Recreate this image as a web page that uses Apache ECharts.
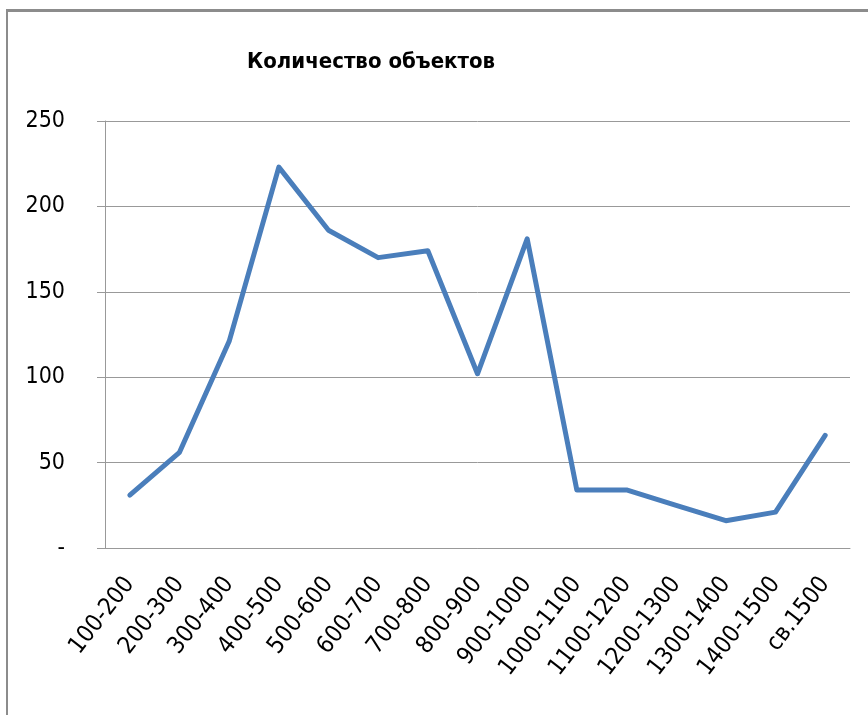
<!DOCTYPE html>
<html>
<head>
<meta charset="utf-8">
<script src="https://cdn.jsdelivr.net/npm/echarts@6/dist/echarts.min.js"></script>
<style>
  html, body { margin: 0; padding: 0; background: #fff; }
  #frame {
    position: absolute; left: 6px; top: 9px; width: 862px; height: 706px;
    border-top: 3px solid #8c8c8c; border-left: 2px solid #8c8c8c;
  }
  #chart { position: absolute; left: 0; top: 0; width: 868px; height: 715px; }
</style>
</head>
<body>
<div id="frame"></div>
<div id="chart"></div>
<script>
// диапазоны (категории оси X)
const categories = ["100-200", "200-300", "300-400", "400-500", "500-600", "600-700", "700-800",
  "800-900", "900-1000", "1000-1100", "1100-1200", "1200-1300", "1300-1400", "1400-1500", "св.1500"];
// количество объектов
const counts = [31, 56, 121, 223, 186, 170, 174, 102, 181, 34, 34, 25, 16, 21, 66];
const yTicks = [0, 50, 100, 150, 200, 250];

const font = "'Liberation Sans Narrow', 'DejaVu Sans Condensed', sans-serif";

const getOption = () => {
  return {
    animation: false,
    title: {
      text: "Количество объектов",
      left: 242,
      top: 46,
      textStyle: { fontFamily: font, fontSize: 22, fontWeight: "bold", color: "#000" }
    },
    grid: { left: 105, right: 18, top: 121, bottom: 167 },
    xAxis: {
      type: "category",
      data: categories,
      axisLine: { lineStyle: { color: "#999", width: 1 } },
      axisTick: { length: 10, lineStyle: { color: "#999" } },
      axisLabel: {
        rotate: 52,
        margin: 32,
        interval: 0,
        fontFamily: font,
        fontSize: 24,
        color: "#000"
      }
    },
    yAxis: {
      type: "value",
      min: yTicks[0],
      max: yTicks[yTicks.length - 1],
      interval: 50,
      axisLine: { show: true, lineStyle: { color: "#999" } },
      axisTick: { show: true, length: 8, lineStyle: { color: "#999" } },
      splitLine: { lineStyle: { color: "#999", width: 1 } },
      axisLabel: {
        margin: 40,
        fontFamily: font,
        fontSize: 23,
        color: "#000",
        formatter: (v) => (v === 0 ? "-" : String(v))
      }
    },
    series: [
      {
        type: "line",
        data: counts,
        showSymbol: false,
        lineStyle: { color: "#4a7ebb", width: 5, join: "round", cap: "round" },
        itemStyle: { color: "#4a7ebb" }
      }
    ]
  };
};

const chart = echarts.init(document.querySelector("#chart"));
chart.setOption(getOption());
</script>
</body>
</html>
